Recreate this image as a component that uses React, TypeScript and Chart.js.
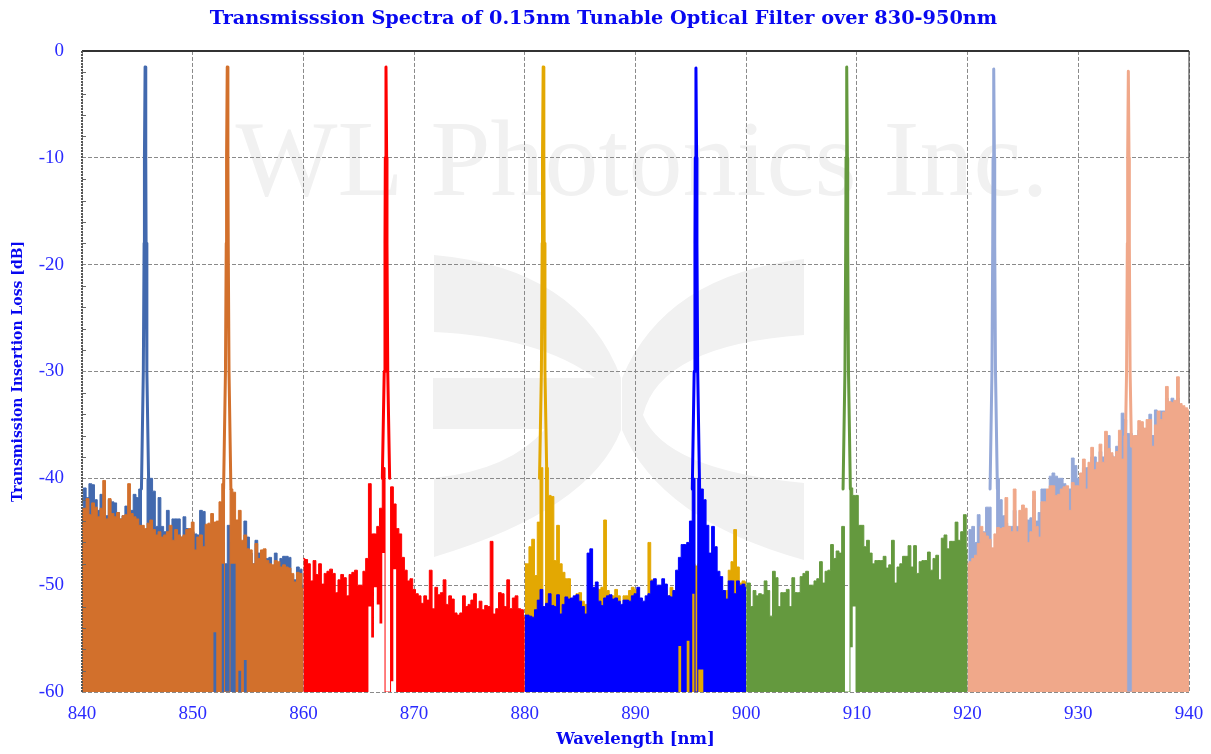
import React, { useEffect, useRef } from "react";
import { Chart, registerables } from "chart.js";

Chart.register(...registerables);

const titleText = "Transmisssion Spectra of 0.15nm Tunable Optical Filter over 830-950nm";
const xTitle = "Wavelength [nm]";
const yTitle = "Transmission Insertion Loss [dB]";
const watermarkText = "WL Photonics Inc.";
const minorTickValues = [-58,-56,-54,-52,-48,-46,-44,-42,-38,-36,-34,-32,-28,-26,-24,-22,-18,-16,-14,-12,-8,-6,-4,-2];
const gridStep = 0.25;

// upper envelopes, one value per 0.25 nm
const steelUpper = [
  -43,-40.9,-41.8,-40.5,-40.6,-42,-43,-41.5,-41.6,-43.5,
  -42,-42.2,-42.3,-43.2,-43.8,-43.5,-42.6,-43,-43,-41.5,
  -41.8,-41,-45,-45,-40,-40,-41.2,-44.5,-41.8,-44.5,
  -45,-43,-45.5,-43.8,-43.8,-43.8,-45.5,-43.6,-44.7,-45.5,
  -45,-45.2,-45.3,-43,-43.1,-46,-46,-46,-46,-46,
  -46,-46,-48,-44.4,-46,-46,-46,-48,-47,-44,
  -45.5,-47,-48,-45.8,-47,-47.2,-48,-47.5,-47.4,-48.3,
  -47,-48,-47.5,-47.3,-47.3,-47.4,-49,-49.5,-48.3,-48.5,
  -50,
];
const orangeUpper = [
  -42.9,-42.8,-41.9,-43.4,-42.3,-42.7,-43.6,-42.8,-40.2,-43.8,
  -41.9,-43.3,-43.6,-43.2,-43.8,-43.5,-43.4,-40.5,-43.3,-43.6,
  -43.8,-44.4,-44.4,-44.7,-44.2,-43.9,-44.8,-45.3,-45,-45.5,
  -45.3,-45,-44.4,-45.8,-44.8,-45.3,-45.5,-45.3,-44.8,-44.7,
  -44.1,-46.7,-45.5,-45.3,-46.4,-44.3,-44.2,-43.3,-44.1,-44,
  -42.2,-40.5,-60,-60,-41,-41.3,-43.9,-43,-45.8,-45.3,
  -46.6,-46.7,-48,-46.1,-47.5,-46.7,-46.6,-47.7,-48,-48.1,
  -47.7,-47.8,-48.3,-48.1,-48.3,-48.4,-48.9,-49.7,-48.8,-48.9,
  -50.3,
];
const redUpper = [
  -47.5,-47.6,-48,-49.6,-47.7,-49,-48,-49.9,-48.9,-48.7,
  -48.5,-48.9,-50.7,-49.5,-49,-49.3,-51,-49,-48.8,-48.6,
  -50,-50,-48.7,-47.5,-40.5,-45.2,-45.2,-44.5,-42.8,-39,
  -60,-60,-40.8,-42.4,-44.7,-45.2,-47.4,-48.6,-49.6,-49.4,
  -50.4,-50.8,-51,-51.7,-51,-51.4,-48.6,-52.2,-50.2,-50.9,
  -50.7,-49.5,-51.8,-51,-51.3,-52.6,-52.8,-52.6,-51,-52,
  -51.8,-51.4,-50.8,-52.2,-51.5,-52.3,-51.9,-52,-45.9,-52.7,
  -52.2,-50.7,-50.8,-52,-49.5,-52.2,-51.2,-51,-52.2,-52.3,
  -53,
];
const amberUpper = [
  -48,-48,-46.4,-45.7,-49.1,-44.1,-39,-60,-39,-41.6,
  -41.7,-47.7,-44.4,-48,-48.8,-49.4,-49.4,-53,-52,-50.8,
  -50.7,-51.5,-51.8,-52,-51,-50.5,-50.3,-50.4,-50.2,-43.9,
  -50.5,-52,-51,-50.4,-51,-52,-51,-51,-50.5,-50.2,
  -50.4,-51.5,-52,-52,-51.5,-46,-49.5,-51,-51,-51.5,
  -51,-50.5,-51,-50.2,-50.5,-50,-49,-48,-48,-48,
  -48,-48,-48.2,-48,-48,-50,-51,-51,-51,-51,
  -51,-51,-51,-50.5,-48.6,-47.8,-44.8,-48.3,-49.8,-49.6,
  -49.7,
];
const royalUpper = [
  -52.8,-52.8,-52.9,-53,-52.3,-51.4,-50.4,-52,-51.7,-50.8,
  -51.9,-52,-50.9,-52.7,-51.8,-51.1,-51.3,-51.2,-51,-50.9,
  -51.5,-52,-52.7,-47,-46.6,-50.2,-49.7,-51.5,-51.9,-51.2,
  -51,-50.9,-51.3,-51.2,-51.5,-51.8,-51.4,-51.4,-51.5,-51,
  -50.8,-50.2,-51.2,-51.5,-51,-50.8,-49.6,-49.4,-50,-50,
  -49.4,-49.9,-51,-51.1,-50.5,-48.6,-47.4,-46.2,-46.2,-46,
  -44,-40,-60,-40,-41,-42,-44.4,-47,-44.5,-46.4,
  -48.7,-49.2,-50.5,-51.3,-49.6,-49.6,-50.8,-49.6,-50,-49.9,
  -50.2,
];
const greenUpper = [
  -49.8,-49.8,-52,-50.5,-51,-50.8,-50.9,-49.6,-50.5,-52.9,
  -48.7,-49.3,-52,-50.7,-50.7,-50.4,-52,-49.3,-50.7,-50.7,
  -49.2,-48.9,-48.7,-50,-50,-49.6,-49.4,-47.8,-49.8,-48.7,
  -48.6,-46.2,-47.5,-46.8,-47,-44.5,-60,-60,-40.9,-41.6,
  -41.6,-44.4,-44.4,-46.4,-45.8,-47,-48,-47.7,-47.7,-47.7,
  -47.3,-48.4,-48.1,-45.8,-49.8,-48.3,-48,-47.3,-47.3,-46.3,
  -48.3,-46.3,-48.9,-47.8,-47.7,-47.7,-46.9,-48.6,-47.5,-47.2,
  -49.5,-45.6,-45.3,-46.6,-45.9,-45.9,-44.1,-45.8,-45,-43.4,
  -46.7,
];
const periwinkleUpper = [
  -49,-44.8,-44.5,-46,-43.4,-46,-45,-42.7,-42.7,-60,
  -60,-40,-42,-43.5,-44.2,-44.5,-44.5,-43,-44.5,-44.5,
  -44.5,-44,-43.9,-43.7,-42,-44,-43.2,-41,-41,-41.4,
  -39.8,-39.5,-39.8,-40,-40,-40.5,-41,-41,-38.1,-38.8,
  -40,-41,-39,-39,-39,-38,-38,-39.5,-37.5,-38,
  -37,-36,-37.8,-38,-37,-36.5,-33.9,-34.5,-35.8,-35.8,
  -37,-36,-35.5,-35.2,-36,-35.5,-34,-36,-33.6,-35,
  -33.7,-33.7,-32.5,-34,-32.5,-33,-32.5,-33.8,-33.8,-34.5,
  -35,
];
const salmonUpper = [
  -48,-47.8,-47.5,-47.2,-46.1,-44.5,-45.1,-45.4,-45.7,-46.5,
  -45.2,-44.6,-44.7,-44.6,-41.8,-44.5,-45,-41,-45,-43,
  -42.5,-42.8,-46,-45,-41.2,-44.5,-45.5,-42.2,-42.2,-41,
  -40.7,-40.7,-41.6,-41.5,-41,-40.8,-40.7,-43,-40.4,-40.7,
  -40.7,-39.5,-38.2,-41,-38.5,-37.1,-39.2,-38.5,-36.8,-38.5,
  -35.6,-37.2,-37.6,-38,-37.5,-35.5,-38.2,-36,-60,-60,
  -36,-36,-34.6,-34.7,-35.3,-34.5,-34.5,-37,-35,-33.7,
  -34.5,-33.8,-31.4,-32.8,-32.9,-32.7,-30.5,-33,-33.2,-33.4,
  -33.6,
];

// raised lower envelopes (index on the 0.25 nm grid → dB); elsewhere the trace reaches -60
const orangeLower: Record<number, number> = { 48: -54.4, 51: -48, 54: -48, 55: -48, 57: -58, 59: -57 };
const redLower: Record<number, number> = { 24: -52, 25: -54.9, 26: -50.2, 27: -51.8, 28: -53.6, 29: -47, 32: -59, 33: -48.5 };
const royalLower: Record<number, number> = { 56: -55.7, 59: -55.2, 61: -50.8, 63: -57.9, 64: -57.9 };
const greenLower: Record<number, number> = { 38: -55.8, 39: -52 };
const noLower: Record<number, number> = {};

// narrow passbands: wavelength and level of the rising and falling trace
const steelPeakX = [845.37, 845.54, 845.61, 845.64, 845.7, 845.76, 845.79, 845.86, 846.03];
const steelPeakY = [-41, -30, -18, -10, -1.5, -10, -18, -30, -41];
const orangePeakX = [852.79, 852.96, 853.03, 853.06, 853.12, 853.18, 853.21, 853.28, 853.45];
const orangePeakY = [-41, -30, -18, -10, -1.5, -10, -18, -30, -41];
const redPeakX = [867.13, 867.3, 867.37, 867.4, 867.46, 867.52, 867.55, 867.62, 867.79];
const redPeakY = [-40, -30, -18, -10, -1.5, -10, -18, -30, -40];
const amberPeakX = [881.33, 881.5, 881.57, 881.6, 881.66, 881.72, 881.75, 881.82, 881.99];
const amberPeakY = [-40, -30, -18, -10, -1.5, -10, -18, -30, -40];
const royalPeakX = [895.13, 895.3, 895.37, 895.4, 895.46, 895.52, 895.55, 895.62, 895.79];
const royalPeakY = [-41, -30, -18, -10, -1.6, -10, -18, -30, -41];
const greenPeakX = [908.75, 908.92, 908.99, 909.02, 909.08, 909.14, 909.17, 909.24, 909.41];
const greenPeakY = [-41, -30, -18, -10, -1.5, -10, -18, -30, -41];
const periwinklePeakX = [922.03, 922.2, 922.27, 922.3, 922.36, 922.42, 922.45, 922.52, 922.69];
const periwinklePeakY = [-41, -30, -18, -10, -1.7, -10, -18, -30, -41];
const salmonPeakX = [934.25, 934.36, 934.43, 934.46, 934.52, 934.58, 934.61, 934.68, 934.8];
const salmonPeakY = [-37, -30, -18, -10, -1.9, -10, -18, -30, -37];

// back to front
const traces = [
  { label: "Steel", color: "#4269ae", start: 840, upper: steelUpper, lower: noLower, px: steelPeakX, py: steelPeakY },
  { label: "Orange", color: "#d2702c", start: 840, upper: orangeUpper, lower: orangeLower, px: orangePeakX, py: orangePeakY },
  { label: "Red", color: "#ff0000", start: 860, upper: redUpper, lower: redLower, px: redPeakX, py: redPeakY },
  { label: "Amber", color: "#e3a802", start: 880, upper: amberUpper, lower: noLower, px: amberPeakX, py: amberPeakY },
  { label: "Royal", color: "#0000ff", start: 880, upper: royalUpper, lower: royalLower, px: royalPeakX, py: royalPeakY },
  { label: "Green", color: "#64993e", start: 900, upper: greenUpper, lower: greenLower, px: greenPeakX, py: greenPeakY },
  { label: "Periwinkle", color: "#94a8d8", start: 920, upper: periwinkleUpper, lower: noLower, px: periwinklePeakX, py: periwinklePeakY },
  { label: "Salmon", color: "#f0a88a", start: 920, upper: salmonUpper, lower: noLower, px: salmonPeakX, py: salmonPeakY },
];

const logoPaths = [
  "M434 255 Q580 268 621 378 L621 430 Q590 510 434 557 L434 478 Q510 470 545 429 L433 429 L433 378 L595 378 Q540 337 434 332 Z",
  "M804 259 Q665 275 622 378 L622 430 Q660 520 804 560 L804 483 Q665 470 643 415 Q660 345 804 335 Z",
];

const decor = {
  id: "decor",
  beforeDraw(chart: any) {
    const { ctx } = chart;
    ctx.save();
    ctx.fillStyle = "#f1f1f1";
    ctx.font = "108px 'Liberation Serif'";
    ctx.textAlign = "center";
    ctx.textBaseline = "alphabetic";
    ctx.fillText(watermarkText, 642, 195);
    for (const d of logoPaths) ctx.fill(new Path2D(d));
    ctx.restore();
  },
  afterDraw(chart: any) {
    const { ctx, chartArea: a, scales } = chart;
    ctx.save();
    ctx.strokeStyle = "#333";
    ctx.lineWidth = 2;
    ctx.beginPath();
    ctx.moveTo(a.left, a.top);
    ctx.lineTo(a.right, a.top);
    ctx.stroke();
    ctx.lineWidth = 1;
    ctx.beginPath();
    ctx.moveTo(a.right, a.top);
    ctx.lineTo(a.right, scales.y.getPixelForValue(-33));
    ctx.stroke();
    ctx.strokeStyle = "#666";
    ctx.beginPath();
    for (const v of minorTickValues) {
      const y = Math.round(scales.y.getPixelForValue(v)) + 0.5;
      ctx.moveTo(a.left, y);
      ctx.lineTo(a.left + 4, y);
    }
    ctx.stroke();
    ctx.setLineDash([2, 1]);
    ctx.strokeStyle = "#555";
    ctx.lineWidth = 2;
    ctx.beginPath();
    ctx.moveTo(a.left, a.top);
    ctx.lineTo(a.left, a.bottom);
    ctx.stroke();
    ctx.restore();
  },
};

export default function App() {
  const ref = useRef<HTMLCanvasElement>(null);
  useEffect(() => {
    const datasets: any[] = [];
    // Chart.js paints the first dataset last, so front traces are listed first.
    for (const t of [...traces].reverse()) {
      const xs = t.upper.map((_, i) => t.start + i * gridStep);
      datasets.push({
        label: t.label + " passband",
        data: t.px.map((x, i) => ({ x, y: t.py[i] })),
        borderColor: t.color,
        borderWidth: 3,
        borderCapStyle: "round",
        borderJoinStyle: "round",
        pointRadius: 0,
        fill: false,
      });
      datasets.push({
        label: t.label,
        data: t.upper.map((y, i) => ({ x: xs[i], y })),
        borderColor: t.color,
        backgroundColor: t.color,
        borderWidth: 1,
        pointRadius: 0,
        stepped: "middle",
        fill: { target: "+1", above: t.color, below: t.color },
      });
      datasets.push({
        label: t.label + " floor",
        data: t.upper.map((_, i) => ({ x: xs[i], y: t.lower[i] ?? -60 })),
        borderColor: "rgba(0,0,0,0)",
        borderWidth: 0,
        pointRadius: 0,
        stepped: "middle",
        fill: false,
      });
    }
    const chart = new Chart(ref.current!, {
      type: "line",
      data: { datasets },
      plugins: [decor],
      options: {
        animation: false,
        responsive: false,
        layout: { padding: { left: 0, right: 4, top: 0, bottom: 0 } },
        plugins: {
          legend: { display: false },
          tooltip: { enabled: false },
          title: {
            display: true,
            text: titleText,
            color: "#0808f0",
            font: { family: "'DejaVu Serif'", weight: "bold", size: 19.3, lineHeight: 1.2 },
            padding: { top: 7, bottom: 20.8 },
          },
        },
        scales: {
          x: {
            type: "linear",
            min: 840,
            max: 940,
            afterFit: (s: any) => { s.height = 62; s.paddingLeft = 0; s.paddingRight = 22; },
            ticks: { stepSize: 10, color: "#2a2aff", font: { family: "'Liberation Serif'", size: 19 }, padding: 11, maxRotation: 0 },
            grid: { color: "#8a8a8a", drawTicks: false, lineWidth: 1 },
            border: { display: false, dash: [4, 2] },
            title: { display: true, text: xTitle, color: "#0808f0", font: { family: "'DejaVu Serif'", weight: "bold", size: 16.5 }, padding: { top: 2, bottom: 4 } },
          },
          y: {
            min: -60,
            max: 0,
            afterFit: (s: any) => { s.width = 82; },
            ticks: { stepSize: 10, color: "#2a2aff", font: { family: "'Liberation Serif'", size: 19 }, padding: 18 },
            grid: { color: "#8a8a8a", drawTicks: false, lineWidth: 1 },
            border: { display: false, dash: [4, 2] },
            title: { display: true, text: yTitle, color: "#0808f0", font: { family: "'DejaVu Serif'", weight: "bold", size: 14 }, padding: { top: 10, bottom: 0 } },
          },
        },
      } as any,
    });
    return () => chart.destroy();
  }, []);
  return (
    <div style={{ position: "absolute", left: 0, top: 0, width: 1211, height: 754, background: "#fff" }}>
      <canvas ref={ref} width={1211} height={754} style={{ display: "block", filter: "blur(0.45px)" }} />
    </div>
  );
}
